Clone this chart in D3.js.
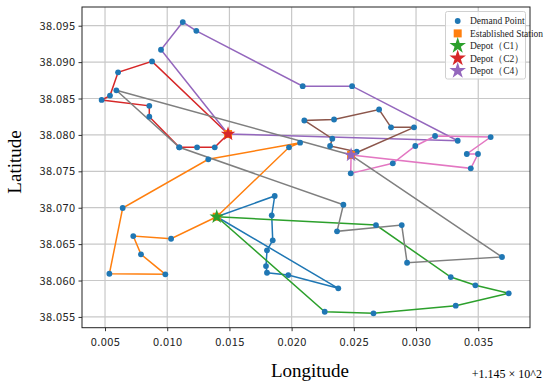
<!DOCTYPE html>
<html>
<head>
<meta charset="utf-8">
<script src="https://cdn.jsdelivr.net/npm/d3@7"></script>
<style>
  body { margin: 0; background: #fff; }
</style>
</head>
<body>
<script>
// longitude is shown as offset from 114.5
const xTicks = [0.005, 0.010, 0.015, 0.020, 0.025, 0.030, 0.035];
const yTicks = [38.055, 38.060, 38.065, 38.070, 38.075, 38.080, 38.085, 38.090, 38.095];

const depotNames = ['C1', 'C2', 'C4'];
const depotLon = [0.01398, 0.01489, 0.02478];
const depotLat = [38.06876, 38.08012, 38.07724];
const depotColors = ['#2ca02c', '#d62728', '#9467bd'];

// routes: stops as [lon, lat], each starts and ends at its depot
const route1 = [[0.01864, 38.07161], [0.0184, 38.06896], [0.01848, 38.06552], [0.01802, 38.06415],
  [0.01794, 38.06199], [0.01802, 38.06107], [0.01973, 38.06075], [0.02375, 38.05893]];
const route2 = [[0.01031, 38.06574], [0.00727, 38.06611], [0.00789, 38.0636], [0.00985, 38.06085],
  [0.00535, 38.06093], [0.00642, 38.06996], [0.0133, 38.07665], [0.02068, 38.07893], [0.01979, 38.0783]];
const route3 = [[0.02678, 38.06762], [0.03279, 38.06048], [0.03477, 38.05934], [0.03745, 38.05824],
  [0.03319, 38.05654], [0.02658, 38.05549], [0.02266, 38.05571]];
const route4 = [[0.00878, 38.0901], [0.00605, 38.0886], [0.0054, 38.0854], [0.00473, 38.0848],
  [0.00856, 38.084], [0.00856, 38.0825], [0.01097, 38.0783], [0.0124, 38.0783], [0.01382, 38.0783]];
const route5 = [[0.0095, 38.0917], [0.01125, 38.0955], [0.01234, 38.0943], [0.02089, 38.0867],
  [0.02486, 38.0867], [0.03335, 38.0792]];
const route6 = [[0.02523, 38.07769], [0.02309, 38.07848], [0.02327, 38.07948], [0.02102, 38.08198],
  [0.02341, 38.08212], [0.02703, 38.08349], [0.02799, 38.08104], [0.02984, 38.08104]];
const route7 = [[0.02475, 38.07472], [0.02813, 38.0761], [0.02994, 38.07848], [0.03153, 38.07985],
  [0.036, 38.07971], [0.03408, 38.07738], [0.03498, 38.07738], [0.0344, 38.07541]];
const route8 = [[0.00591, 38.08613], [0.01097, 38.0783], [0.02416, 38.07041], [0.02365, 38.06676],
  [0.02885, 38.06762], [0.02928, 38.06244], [0.03691, 38.06323]];

const routes = [route1, route2, route3, route4, route5, route6, route7, route8];
const routeDepot = [0, 0, 0, 1, 1, 2, 2, 2];
const routeColors = ['#1f77b4', '#ff7f0e', '#2ca02c', '#d62728', '#9467bd', '#8c564b', '#e377c2', '#7f7f7f'];

const W = 550, H = 383;
const svg = d3.select('body').append('svg')
  .attr('width', W)
  .attr('height', H)
  .attr('xmlns', 'http://www.w3.org/2000/svg');

const x = d3.scaleLinear().domain([0.00315, 0.03916]).range([82, 530]);
const y = d3.scaleLinear().domain([38.05352, 38.09757]).range([327.7, 7]);

const tickFont = '"Noto Sans CJK SC", sans-serif';
const serif = '"Liberation Serif", "DejaVu Serif", serif';

// grid
svg.append('g').selectAll('line').data(xTicks).join('line')
  .attr('x1', d => x(d)).attr('x2', d => x(d))
  .attr('y1', y.range()[1]).attr('y2', y.range()[0])
  .attr('stroke', '#c8c8c8').attr('stroke-width', 1.2);
svg.append('g').selectAll('line').data(yTicks).join('line')
  .attr('y1', d => y(d)).attr('y2', d => y(d))
  .attr('x1', x.range()[0]).attr('x2', x.range()[1])
  .attr('stroke', '#c8c8c8').attr('stroke-width', 1.2);

// axes
const xAxis = svg.append('g')
  .attr('transform', `translate(0,${y.range()[0]})`)
  .call(d3.axisBottom(x).tickValues(xTicks).tickSize(3.5).tickSizeOuter(0).tickFormat(d3.format('.3f')));
const yAxis = svg.append('g')
  .attr('transform', `translate(${x.range()[0]},0)`)
  .call(d3.axisLeft(y).tickValues(yTicks).tickSize(3.5).tickSizeOuter(0).tickFormat(d3.format('.3f')));
[xAxis, yAxis].forEach(g => {
  g.select('.domain').remove();
  g.selectAll('line').attr('stroke', '#333');
  g.selectAll('text').attr('font-family', tickFont).attr('font-size', 11)
    .attr('letter-spacing', 0.4).attr('fill', '#222');
});
xAxis.selectAll('text').attr('dy', '1.05em');

// route lines
const line = d3.line().x(d => x(d[0])).y(d => y(d[1]));
routes.forEach((r, i) => {
  const k = routeDepot[i];
  const dep = [depotLon[k], depotLat[k]];
  svg.append('path')
    .attr('d', line([dep, ...r, dep]))
    .attr('fill', 'none')
    .attr('stroke', routeColors[i])
    .attr('stroke-width', 1.5);
});

// demand points
svg.append('g').selectAll('circle').data(routes.flat()).join('circle')
  .attr('cx', d => x(d[0])).attr('cy', d => y(d[1]))
  .attr('r', 2.9).attr('fill', '#1f77b4');

// established stations (under the depot stars)
svg.append('g').selectAll('rect').data(depotLon).join('rect')
  .attr('x', (d, i) => x(d) - 4).attr('y', (d, i) => y(depotLat[i]) - 4)
  .attr('width', 8).attr('height', 8).attr('fill', '#ff7f0e');

// depots
const star = d3.symbol(d3.symbolStar, 66);
svg.append('g').selectAll('path').data(depotLon).join('path')
  .attr('d', star)
  .attr('transform', (d, i) => `translate(${x(d)},${y(depotLat[i])})`)
  .attr('fill', (d, i) => depotColors[i]);

// frame
svg.append('rect')
  .attr('x', x.range()[0]).attr('y', y.range()[1])
  .attr('width', x.range()[1] - x.range()[0]).attr('height', y.range()[0] - y.range()[1])
  .attr('fill', 'none').attr('stroke', '#222').attr('stroke-width', 1);

// axis titles
svg.append('text')
  .attr('x', 310).attr('y', 377)
  .attr('text-anchor', 'middle')
  .attr('font-family', serif).attr('font-size', 19)
  .text('Longitude');
svg.append('text')
  .attr('transform', 'translate(21,162) rotate(-90)')
  .attr('text-anchor', 'middle')
  .attr('font-family', serif).attr('font-size', 19)
  .text('Latitude');
svg.append('text')
  .attr('x', 542).attr('y', 378)
  .attr('text-anchor', 'end')
  .attr('font-family', serif).attr('font-size', 12)
  .text('+1.145 × 10^2');

// legend
const lg = svg.append('g');
lg.append('rect')
  .attr('x', 445.5).attr('y', 11.5).attr('width', 80).attr('height', 67.5)
  .attr('rx', 2).attr('fill', '#fff').attr('fill-opacity', 0.8)
  .attr('stroke', '#d0d0d0');
const legendLabels = ['Demand Point', 'Established Station',
  ...depotNames.map(n => `Depot（${n}）`)];
const ly = d => 21 + d * 12.4;
lg.append('circle').attr('cx', 457.7).attr('cy', ly(0)).attr('r', 2.9).attr('fill', '#1f77b4');
lg.append('rect').attr('x', 453.7).attr('y', ly(1) - 4).attr('width', 8).attr('height', 8).attr('fill', '#ff7f0e');
const legendStar = d3.symbol(d3.symbolStar, 85);
depotColors.forEach((c, i) => {
  lg.append('path').attr('d', legendStar)
    .attr('transform', `translate(457.7,${ly(i + 2)})`)
    .attr('fill', c);
});
lg.selectAll('text').data(legendLabels).join('text')
  .attr('x', 470).attr('y', (d, i) => ly(i) + 3.3)
  .attr('font-family', serif).attr('font-size', 9.5).attr('fill', '#222')
  .text(d => d);
</script>
</body>
</html>
